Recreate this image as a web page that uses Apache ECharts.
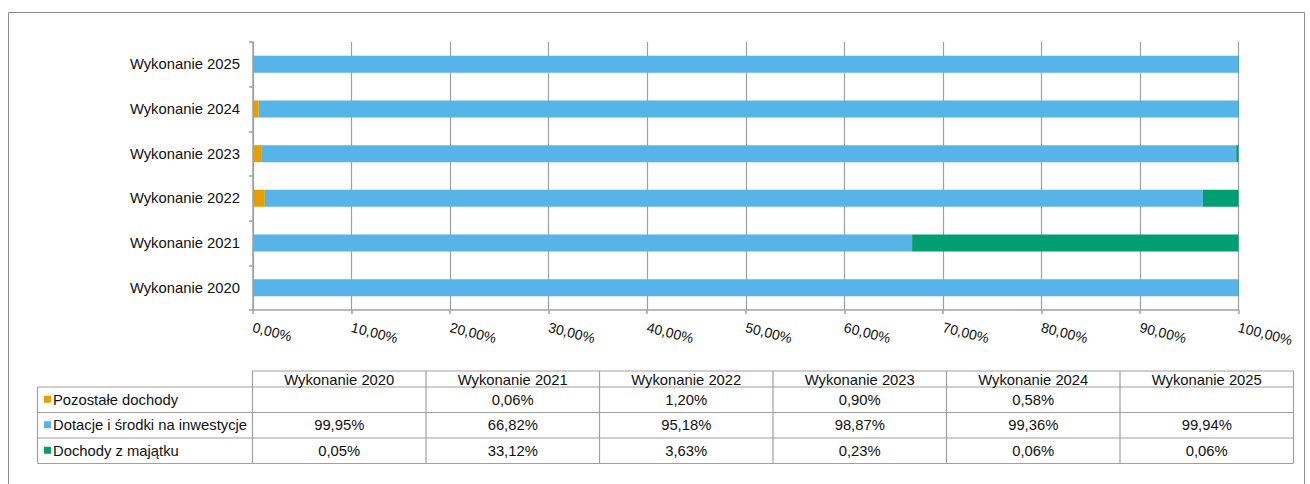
<!DOCTYPE html>
<html>
<head>
<meta charset="utf-8">
<script src="https://cdn.jsdelivr.net/npm/echarts@6/dist/echarts.min.js"></script>
<style>
  html, body { margin: 0; padding: 0; background: #ffffff; }
  #chart { width: 1310px; height: 484px; }
</style>
</head>
<body>
<div id="chart"></div>
<script>
// kategorie (od dołu do góry osi)
const categories = ["Wykonanie 2020", "Wykonanie 2021", "Wykonanie 2022", "Wykonanie 2023", "Wykonanie 2024", "Wykonanie 2025"];
const seriesNames = ["Pozostałe dochody", "Dotacje i środki na inwestycje", "Dochody z majątku"];
const pozostale = [null, 0.06, 1.20, 0.90, 0.58, null];
const dotacje = [99.95, 66.82, 95.18, 98.87, 99.36, 99.94];
const majatek = [0.05, 33.12, 3.63, 0.23, 0.06, 0.06];
const xTicks = [0, 10, 20, 30, 40, 50, 60, 70, 80, 90, 100];

const colors = ["#E69F00", "#56B4E9", "#009E73"];
const font = '"Liberation Sans", Arial, sans-serif';
const fs = 14.8;
const fmt = v => (v == null ? "" : v.toFixed(2).replace(".", ",") + "%");

// tabela danych pod wykresem
const tabLeft = 37.5, tabCol0 = 252.5, colW = 173.5;
const headTop = 371, headBot = 387, rowH = 25.5;
const lineStyle = { stroke: "#a0a0a0", lineWidth: 1.2 };
const rows = [pozostale, dotacje, majatek];
const tabRight = tabCol0 + colW * categories.length;
const tabBot = headBot + rowH * rows.length;

const graphic = [];
// ramka
graphic.push({ type: "rect", shape: { x: 8.5, y: 12.5, width: 1296, height: 490 },
  style: { fill: "none", stroke: "#8c8c8c", lineWidth: 1 }, silent: true });
// linie poziome
graphic.push({ type: "line", shape: { x1: tabCol0, y1: headTop, x2: tabRight, y2: headTop }, style: lineStyle });
for (let r = 0; r <= rows.length; r++) {
  const y = headBot + rowH * r;
  graphic.push({ type: "line", shape: { x1: tabLeft, y1: y, x2: tabRight, y2: y }, style: lineStyle });
}
// linie pionowe
graphic.push({ type: "line", shape: { x1: tabLeft, y1: headBot, x2: tabLeft, y2: tabBot }, style: lineStyle });
for (let c = 0; c <= categories.length; c++) {
  const x = tabCol0 + colW * c;
  graphic.push({ type: "line", shape: { x1: x, y1: headTop, x2: x, y2: tabBot }, style: lineStyle });
}
// nagłówki
categories.forEach((cat, c) => {
  graphic.push({ type: "text", x: tabCol0 + colW * (c + 0.5), y: (headTop + headBot) / 2 + 0.5,
    style: { text: cat, fill: "#111111", font: fs + "px " + font, align: "center", verticalAlign: "middle",
      textAlign: "center", textVerticalAlign: "middle" } });
});
// wiersze
rows.forEach((vals, r) => {
  const cy = headBot + rowH * (r + 0.5);
  graphic.push({ type: "rect", shape: { x: 44, y: cy - 4, width: 7, height: 7 }, style: { fill: colors[r] } });
  graphic.push({ type: "text", x: 53, y: cy,
    style: { text: seriesNames[r], fill: "#111111", font: fs + "px " + font, align: "left", verticalAlign: "middle",
      textAlign: "left", textVerticalAlign: "middle" } });
  vals.forEach((v, c) => {
    graphic.push({ type: "text", x: tabCol0 + colW * (c + 0.5), y: cy,
      style: { text: fmt(v), fill: "#111111", font: fs + "px " + font, align: "center", verticalAlign: "middle",
        textAlign: "center", textVerticalAlign: "middle" } });
  });
});

const chart = echarts.init(document.getElementById("chart"), null, { renderer: "svg" });
chart.setOption({
  animation: false,
  backgroundColor: "#ffffff",
  textStyle: { fontFamily: font },
  grid: { left: 253, right: 71.5, top: 42, bottom: 174, containLabel: false },
  xAxis: {
    type: "value",
    min: xTicks[0],
    max: xTicks[xTicks.length - 1],
    interval: 10,
    axisLine: { show: true, lineStyle: { color: "#a0a0a0", width: 1.5 } },
    axisTick: { show: true, length: 4, lineStyle: { color: "#a0a0a0", width: 1.5 } },
    splitLine: { show: true, lineStyle: { color: "#a0a0a0", width: 1.2 } },
    axisLabel: {
      rotate: -14,
      margin: 17,
      fontSize: 14,
      color: "#111111",
      fontFamily: font,
      formatter: v => v.toFixed(2).replace(".", ",") + "%"
    }
  },
  yAxis: {
    type: "category",
    data: categories,
    axisLine: { show: true, lineStyle: { color: "#a0a0a0", width: 1.5 } },
    axisTick: { show: true, length: 4, lineStyle: { color: "#a0a0a0", width: 1.5 } },
    axisLabel: { fontSize: fs, color: "#111111", margin: 13, fontFamily: font },
    splitLine: { show: false }
  },
  series: [
    { name: seriesNames[0], type: "bar", stack: "s", data: pozostale, barWidth: 17, itemStyle: { color: colors[0] } },
    { name: seriesNames[1], type: "bar", stack: "s", data: dotacje, barWidth: 17, itemStyle: { color: colors[1] } },
    { name: seriesNames[2], type: "bar", stack: "s", data: majatek, barWidth: 17, itemStyle: { color: colors[2] } }
  ],
  graphic: graphic
});
</script>
</body>
</html>
